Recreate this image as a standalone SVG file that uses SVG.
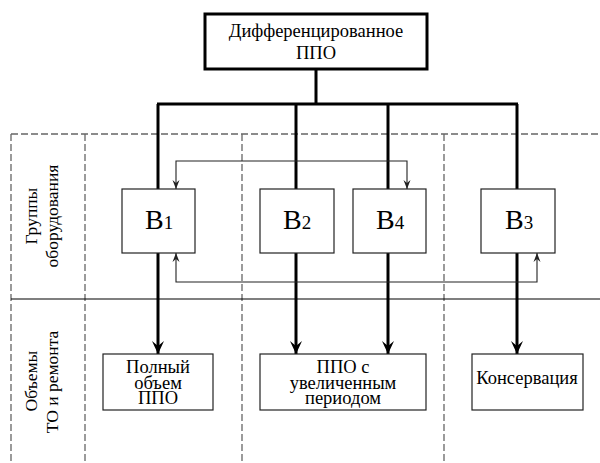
<svg xmlns="http://www.w3.org/2000/svg" width="600" height="463" viewBox="0 0 600 463">
<defs>
  <marker id="big" markerUnits="userSpaceOnUse" markerWidth="16" markerHeight="14" refX="15" refY="7" orient="auto" viewBox="0 0 16 14">
    <path d="M2,1 L15,7 L2,13 L7,7 Z" fill="#000"/>
  </marker>
  <marker id="small" markerUnits="userSpaceOnUse" markerWidth="11" markerHeight="8" refX="10" refY="4" orient="auto-start-reverse" viewBox="0 0 11 8">
    <path d="M1,0.5 L10,4 L1,7.5 L4,4 Z" fill="#222"/>
  </marker>
</defs>

<g id="grid" fill="none">
  <path stroke="#666" stroke-width="1.3" stroke-dasharray="7 3" d="M11,134 H600 M11,134 V463 M85,134 V463 M242,134 V463 M444,134 V463"/>
  <line x1="11" y1="299" x2="600" y2="299" stroke="#000" stroke-width="1.2"/>
</g>

<g id="connectors" fill="none" stroke="#000" stroke-width="3">
  <path d="M316,69 V104 M157,104 H518"/>
  <path d="M158,104 V189"/>
  <path d="M296,104 V189"/>
  <path d="M388,104 V189"/>
  <path d="M517,104 V189"/>
  <path d="M158,253 V354" marker-end="url(#big)"/>
  <path d="M296,253 V354" marker-end="url(#big)"/>
  <path d="M388,253 V354" marker-end="url(#big)"/>
  <path d="M517,253 V354" marker-end="url(#big)"/>
  <path stroke="#222" stroke-width="1.1" d="M176,189 V161 H407 V189" marker-start="url(#small)" marker-end="url(#small)"/>
  <path stroke="#222" stroke-width="1.1" d="M176,253 V282 H537 V253" marker-start="url(#small)" marker-end="url(#small)"/>
</g>

<g id="top">
  <rect x="205" y="14" width="222" height="55" fill="#fff" stroke="#000" stroke-width="3"/>
  <text x="316" y="37" font-family="Liberation Serif" font-size="18.5" text-anchor="middle">Дифференцированное</text>
  <text x="316" y="59" font-family="Liberation Serif" font-size="18.5" text-anchor="middle">ППО</text>
</g>

<g id="B1">
  <rect x="122" y="189" width="73" height="64" fill="#fff" stroke="#222" stroke-width="1.2"/>
  <text x="145" y="229" font-family="Liberation Serif" font-size="28">B<tspan font-size="19">1</tspan></text>
</g>
<g id="B2">
  <rect x="260" y="189" width="74" height="64" fill="#fff" stroke="#222" stroke-width="1.2"/>
  <text x="283" y="229" font-family="Liberation Serif" font-size="28">B<tspan font-size="19">2</tspan></text>
</g>
<g id="B4">
  <rect x="353" y="189" width="73" height="64" fill="#fff" stroke="#222" stroke-width="1.2"/>
  <text x="376" y="229" font-family="Liberation Serif" font-size="28">B<tspan font-size="19">4</tspan></text>
</g>
<g id="B3">
  <rect x="481" y="189" width="74" height="64" fill="#fff" stroke="#222" stroke-width="1.2"/>
  <text x="505" y="229" font-family="Liberation Serif" font-size="28">B<tspan font-size="19">3</tspan></text>
</g>

<g id="full">
  <rect x="103" y="354" width="110" height="56" fill="#fff" stroke="#222" stroke-width="1.2"/>
  <text x="158" y="373" font-family="Liberation Serif" font-size="18.5" text-anchor="middle">Полный</text>
  <text x="158" y="389" font-family="Liberation Serif" font-size="18.5" text-anchor="middle">объем</text>
  <text x="158" y="404" font-family="Liberation Serif" font-size="18.5" text-anchor="middle">ППО</text>
</g>
<g id="extended">
  <rect x="260" y="354" width="166" height="56" fill="#fff" stroke="#222" stroke-width="1.2"/>
  <text x="343" y="373" font-family="Liberation Serif" font-size="18.5" text-anchor="middle">ППО с</text>
  <text x="343" y="389" font-family="Liberation Serif" font-size="18.5" text-anchor="middle">увеличенным</text>
  <text x="343" y="404" font-family="Liberation Serif" font-size="18.5" text-anchor="middle">периодом</text>
</g>
<g id="conservation">
  <rect x="472" y="354" width="111" height="56" fill="#fff" stroke="#222" stroke-width="1.2"/>
  <text x="527" y="384" font-family="Liberation Serif" font-size="18.5" text-anchor="middle">Консервация</text>
</g>

<g id="labels">
  <text transform="translate(37,216) rotate(-90)" font-family="Liberation Serif" font-size="17.5" text-anchor="middle">Группы</text>
  <text transform="translate(58,216) rotate(-90)" font-family="Liberation Serif" font-size="17.5" text-anchor="middle">оборудования</text>
  <text transform="translate(37,381) rotate(-90)" font-family="Liberation Serif" font-size="17.5" text-anchor="middle">Объемы</text>
  <text transform="translate(58,382) rotate(-90)" font-family="Liberation Serif" font-size="17.5" text-anchor="middle">ТО и ремонта</text>
</g>
</svg>
